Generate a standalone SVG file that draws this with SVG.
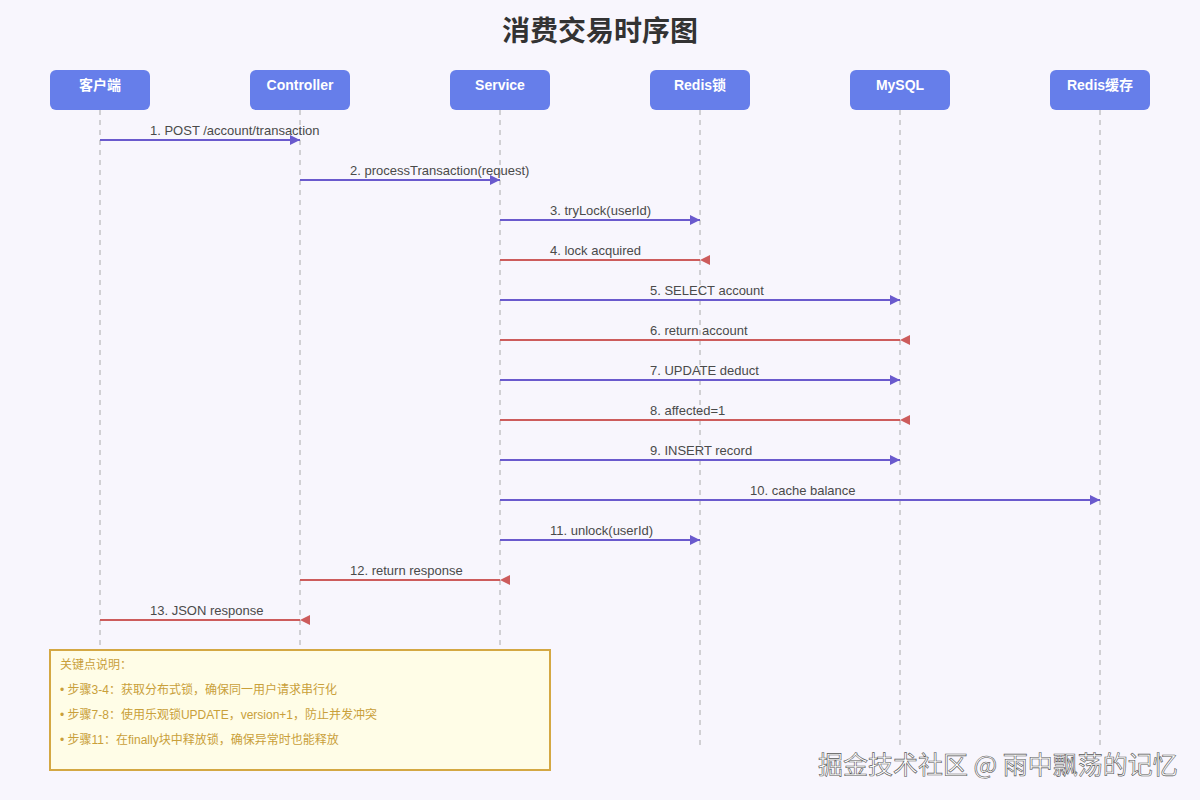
<svg xmlns="http://www.w3.org/2000/svg" width="1200" height="800" viewBox="0 0 1200 800">
<style>
.title{font-family:"Liberation Sans","Noto Sans CJK SC",sans-serif;font-size:28px;font-weight:bold;fill:#333;text-anchor:middle}
.node rect{fill:#667eea;}
.node text{font-family:"Liberation Sans","Noto Sans CJK SC",sans-serif;font-size:14px;font-weight:bold;fill:#fff;text-anchor:middle}
.life{stroke:#aaa;stroke-width:1;stroke-dasharray:5,5}
.req{stroke:#6a5acd;stroke-width:2;fill:none}
.res{stroke:#cd5c5c;stroke-width:2;fill:none}
.lbl{font-family:"Liberation Sans","Noto Sans CJK SC",sans-serif;font-size:13px;fill:#4a4a4a}
.note{fill:#fffde7;stroke:#d4a843;stroke-width:2}
.nt{font-family:"Liberation Sans","Noto Sans CJK SC",sans-serif;font-size:12px;fill:#c9a03a}
.wm{font-family:"Noto Sans CJK SC",sans-serif;font-size:25px;fill:#fff;stroke:#555;stroke-width:0.6}
</style>
<defs>
<marker id="ar" markerWidth="10" markerHeight="10" refX="10" refY="5" orient="auto" markerUnits="userSpaceOnUse"><path d="M0,0 L10,5 L0,10 Z" fill="#6a5acd"/></marker>
<marker id="al" markerWidth="10" markerHeight="10" refX="0" refY="5" orient="auto" markerUnits="userSpaceOnUse"><path d="M10,0 L0,5 L10,10 Z" fill="#cd5c5c"/></marker>
</defs>
<rect width="1200" height="800" fill="#f8f6fd"/>
<text class="title" x="600" y="41">消费交易时序图</text>
<g id="lifelines">
<line class="life" x1="100" y1="110" x2="100" y2="745"/>
<line class="life" x1="300" y1="110" x2="300" y2="745"/>
<line class="life" x1="500" y1="110" x2="500" y2="745"/>
<line class="life" x1="700" y1="110" x2="700" y2="745"/>
<line class="life" x1="900" y1="110" x2="900" y2="745"/>
<line class="life" x1="1100" y1="110" x2="1100" y2="745"/>
</g>
<g id="client" class="node"><rect x="50" y="70" width="100" height="40" rx="6"/><text x="100" y="90">客户端</text></g>
<g id="controller" class="node"><rect x="250" y="70" width="100" height="40" rx="6"/><text x="300" y="90">Controller</text></g>
<g id="service" class="node"><rect x="450" y="70" width="100" height="40" rx="6"/><text x="500" y="90">Service</text></g>
<g id="redislock" class="node"><rect x="650" y="70" width="100" height="40" rx="6"/><text x="700" y="90">Redis锁</text></g>
<g id="mysql" class="node"><rect x="850" y="70" width="100" height="40" rx="6"/><text x="900" y="90">MySQL</text></g>
<g id="rediscache" class="node"><rect x="1050" y="70" width="100" height="40" rx="6"/><text x="1100" y="90">Redis缓存</text></g>
<g id="connectors">
<line class="req" x1="100" y1="140" x2="300" y2="140" marker-end="url(#ar)"/>
<text class="lbl" x="150" y="135">1. POST /account/transaction</text>
<line class="req" x1="300" y1="180" x2="500" y2="180" marker-end="url(#ar)"/>
<text class="lbl" x="350" y="175">2. processTransaction(request)</text>
<line class="req" x1="500" y1="220" x2="700" y2="220" marker-end="url(#ar)"/>
<text class="lbl" x="550" y="215">3. tryLock(userId)</text>
<line class="res" x1="500" y1="260" x2="700" y2="260" marker-end="url(#al)"/>
<text class="lbl" x="550" y="255">4. lock acquired</text>
<line class="req" x1="500" y1="300" x2="900" y2="300" marker-end="url(#ar)"/>
<text class="lbl" x="650" y="295">5. SELECT account</text>
<line class="res" x1="500" y1="340" x2="900" y2="340" marker-end="url(#al)"/>
<text class="lbl" x="650" y="335">6. return account</text>
<line class="req" x1="500" y1="380" x2="900" y2="380" marker-end="url(#ar)"/>
<text class="lbl" x="650" y="375">7. UPDATE deduct</text>
<line class="res" x1="500" y1="420" x2="900" y2="420" marker-end="url(#al)"/>
<text class="lbl" x="650" y="415">8. affected=1</text>
<line class="req" x1="500" y1="460" x2="900" y2="460" marker-end="url(#ar)"/>
<text class="lbl" x="650" y="455">9. INSERT record</text>
<line class="req" x1="500" y1="500" x2="1100" y2="500" marker-end="url(#ar)"/>
<text class="lbl" x="750" y="495">10. cache balance</text>
<line class="req" x1="500" y1="540" x2="700" y2="540" marker-end="url(#ar)"/>
<text class="lbl" x="550" y="535">11. unlock(userId)</text>
<line class="res" x1="300" y1="580" x2="500" y2="580" marker-end="url(#al)"/>
<text class="lbl" x="350" y="575">12. return response</text>
<line class="res" x1="100" y1="620" x2="300" y2="620" marker-end="url(#al)"/>
<text class="lbl" x="150" y="615">13. JSON response</text>
</g>
<g id="note">
<rect class="note" x="50" y="650" width="500" height="120"/>
<text class="nt" x="60" y="669">关键点说明：</text>
<text class="nt" x="60" y="694">• 步骤3-4：获取分布式锁，确保同一用户请求串行化</text>
<text class="nt" x="60" y="719">• 步骤7-8：使用乐观锁UPDATE，version+1，防止并发冲突</text>
<text class="nt" x="60" y="744">• 步骤11：在finally块中释放锁，确保异常时也能释放</text>
</g>
<text class="wm" x="818" y="774">掘金技术社区 @ 雨中飘荡的记忆</text>
</svg>
